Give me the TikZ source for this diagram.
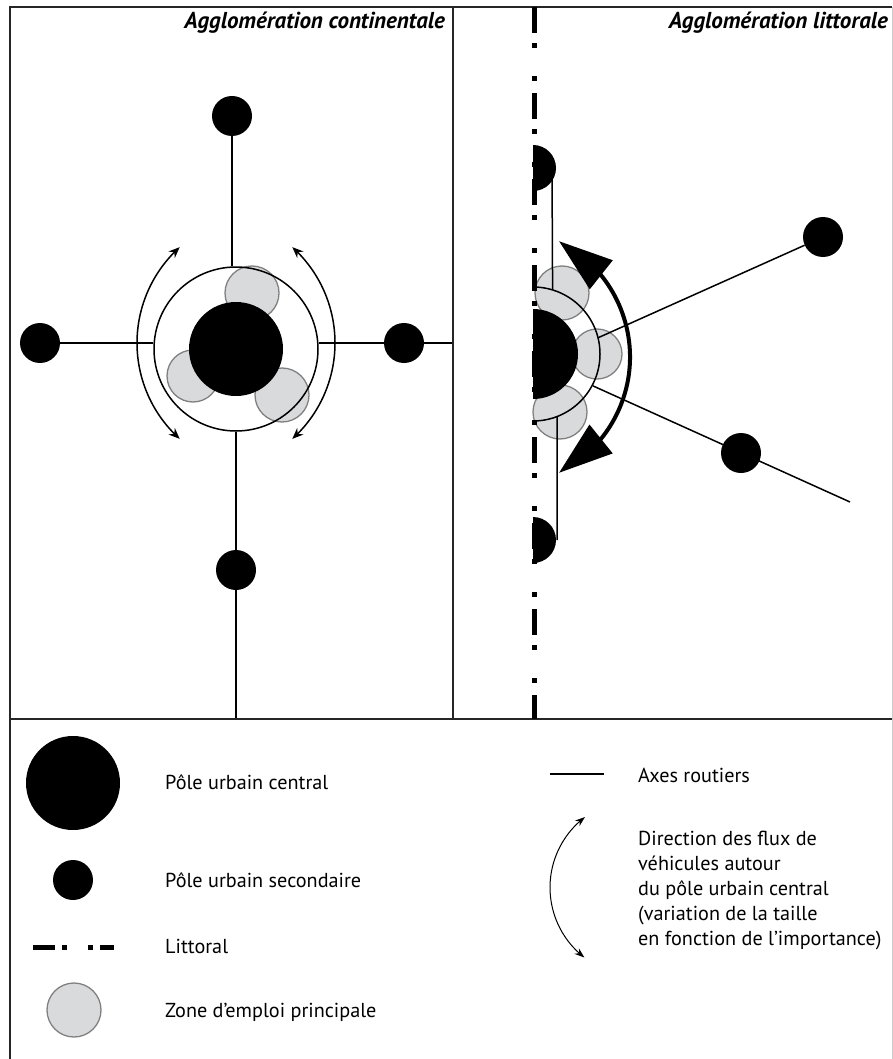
\documentclass[tikz,border=0pt]{standalone}
\usepackage{fontspec}
\setmainfont{PT Sans}
\usepackage{tikz}
\usetikzlibrary{arrows.meta, bending, calc, backgrounds}

\definecolor{zonefill}{RGB}{217,218,220}
\definecolor{zonedraw}{RGB}{128,128,128}

\begin{document}
\begin{tikzpicture}[
    x=1pt, y=-1pt,
    every node/.style={font=\fontsize{20.2}{25}\selectfont, inner sep=0pt},
    frame/.style={line width=1.5pt, draw=black!85},
    road/.style={line width=1.5pt},
    pole-main/.style={circle, fill=black, minimum size=94pt},
    pole-sec/.style={circle, fill=black, minimum size=40pt},
    ringline/.style={circle, draw, line width=1.5pt, minimum size=164pt},
    zone/.style={fill=zonefill, draw=zonedraw, line width=1.3pt},
    flux/.style={line width=1.5pt, {Stealth[length=11pt,width=9pt]}-{Stealth[length=11pt,width=9pt]}},
    bigflux/.style={line width=4pt, {Triangle[length=54pt,width=36pt]}-{Triangle[length=54pt,width=36pt]}},
    littoral/.style={line width=5pt, dash pattern=on 26pt off 10pt on 5pt off 28pt on 5pt off 12pt},
    title/.style={font=\fontsize{23}{27}\selectfont\bfseries\itshape, anchor=base east}
]
\useasboundingbox (0,0) rectangle (893,1059);

% --- frame ---
\draw[frame] (10,1065) -- (10,7) -- (892,7);
\draw[line width=1pt, black!20] (892,7) -- (892,1065);
\draw[frame] (10,719) -- (892,719);
\draw[frame] (453,7) -- (453,719);

\node[title] (t-cont) at (445,29) {Agglomération continentale};
\node[title] (t-litt) at (888,29) {Agglomération littorale};

% --- continental agglomeration (left) ---
\node[pole-main] (central-c) at (236,349) {};
\node[ringline]  (ring-c)    at (236,349) {};
\node[pole-sec]  (north-c)   at (232,116) {};
\node[pole-sec]  (west-c)    at ( 40,343) {};
\node[pole-sec]  (east-c)    at (404,343) {};
\node[pole-sec]  (south-c)   at (236,570) {};
\coordinate (east-end)  at (453,343);
\coordinate (south-end) at (236,719);

\begin{scope}[on background layer]
  \foreach \x/\y/\r in {252/293/27, 193/376/26, 282/395/27}
    \draw[zone] (\x,\y) circle (\r);
  \draw[road] (north-c) -- (north-c |- ring-c.north);
  \draw[road] (west-c) -- (west-c -| ring-c.west);
  \draw[road] (ring-c.east |- east-c) -- (east-end);
  \draw[road] (ring-c.south) -- (south-end);
\end{scope}

\draw[flux] (266,343) ++(132:129) arc[start angle=132, end angle=228, radius=129];
\draw[flux] (206,343) ++(-48:129) arc[start angle=-48, end angle=48, radius=129];

% --- coastal agglomeration (right) ---
\coordinate (central-l) at (533,354);
\coordinate (north-l)   at (533,168);
\coordinate (south-l)   at (533,540);
\node[pole-sec] (ne-l) at (823,237) {};
\node[pole-sec] (se-l) at (741,453) {};
\coordinate (se-end) at (850,502);

\begin{scope}[on background layer]
  \foreach \x/\y/\r in {562/293/27, 597/354/25, 560/412/27}
    \draw[zone] (\x,\y) circle (\r);
  \draw[road] ([xshift=19pt]north-l) -- ($(central-l)+(-73:67)$);
  \draw[road] ($(central-l)+(69:67)$) -- ([xshift=24pt]south-l);
  \draw[road] ($(central-l)+(-14:67)$) -- (ne-l);
  \draw[road] ($(central-l)+(28:68)$) -- (se-end);
\end{scope}

\fill (533,309) arc[start angle=-90, end angle=90, radius=45] -- cycle;
\fill (533,145) arc[start angle=-90, end angle=90, radius=23] -- cycle;
\fill (533,517) arc[start angle=-90, end angle=90, radius=23] -- cycle;
\draw[road] (533,287) arc[start angle=-90, end angle=90, radius=67];

\draw[bigflux] (500,357) ++(-63:130) arc[start angle=-63, end angle=63, radius=130];

\draw[littoral] (534.5,7) -- (534.5,719);

% --- legend ---
\node[pole-main] (leg-central) at (73,783) {};
\node[pole-sec]  (leg-sec)     at (73,880) {};
\draw[littoral, dash pattern=on 22pt off 7pt on 5pt off 21pt on 5pt off 7pt] (33,947) -- (114,947);
\draw[zone] (74,1010) circle (27);
\draw[road] (550,774) -- (604,774);
\draw[line width=1pt, {Stealth[length=10pt,width=7pt]}-{Stealth[length=10pt,width=7pt]}]
  (638.5,887.5) ++(127.7:88.5) arc[start angle=127.7, end angle=232.8, radius=88.5];

\foreach \i/\y/\txt in {1/789/Pôle urbain central, 2/887/Pôle urbain secondaire,
                        3/953/Littoral, 4/1017/Zone d’emploi principale}
  \node[anchor=base west] (lab-\i) at (165,\y) {\txt};

\node[anchor=base west] (lab-axes) at (638,782) {Axes routiers};
\foreach \i/\txt in {0/Direction des flux de, 1/véhicules autour, 2/du pôle urbain central,
                     3/(variation de la taille, 4/en fonction de l’importance)}
  \node[anchor=base west] (flux-\i) at (638,845+25*\i) {\txt};

\end{tikzpicture}
\end{document}
